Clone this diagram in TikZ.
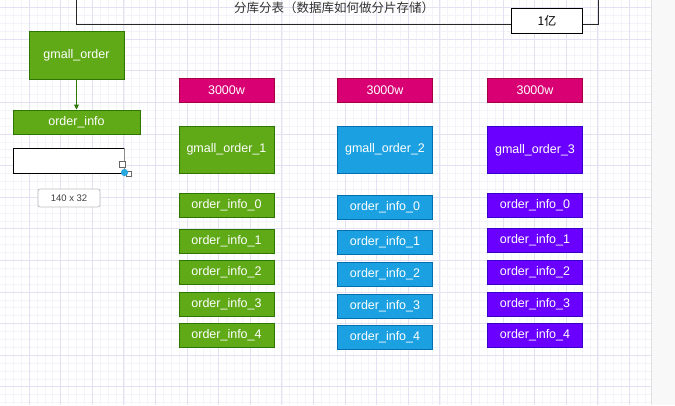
\documentclass[tikz,border=0pt]{standalone}
\usepackage{fontspec}
\setmainfont{Liberation Sans}
\newfontfamily\cjk{Noto Sans CJK SC}
\usetikzlibrary{arrows.meta}
\definecolor{gfill}{HTML}{60A917}\definecolor{gline}{HTML}{2D7600}
\definecolor{bfill}{HTML}{1BA1E2}\definecolor{bline}{HTML}{006EAF}
\definecolor{pfill}{HTML}{6A00FF}\definecolor{pline}{HTML}{3700CC}
\definecolor{mfill}{HTML}{D80073}\definecolor{mline}{HTML}{A50040}
\definecolor{gridmaj}{RGB}{226,226,242}\definecolor{gridmin}{RGB}{243,243,250}
\definecolor{panel}{RGB}{248,248,248}\definecolor{handle}{HTML}{29A8E0}
\tikzset{
  cell/.style={rectangle, inner sep=0pt, text=white, line width=1pt,
    font=\fontsize{12.5}{15}\selectfont},
  gbox/.style={cell, fill=gfill, draw=gline},
  bbox/.style={cell, fill=bfill, draw=bline},
  pbox/.style={cell, fill=pfill, draw=pline},
  mbox/.style={cell, fill=mfill, draw=mline},
  small/.style={minimum width=95pt, minimum height=24pt},
  tall/.style={minimum width=95pt, minimum height=47pt},
}
\begin{document}
\begin{tikzpicture}[x=1pt,y=-1pt]
\useasboundingbox (0,0) rectangle (675,405);
\clip (0,0) rectangle (675,405);
\fill[white] (0,0) rectangle (675,405);
% grid
\foreach \i in {0,...,86} \draw[gridmin, line width=0.6pt] ({-2.6+\i*7.9},0) -- ({-2.6+\i*7.9},405);
\foreach \i in {0,...,55} \draw[gridmin, line width=0.6pt] (0,{-0.4+\i*7.9}) -- (675,{-0.4+\i*7.9});
\foreach \i in {0,...,21} \draw[gridmaj, line width=0.8pt] ({-2.6+\i*31.6},0) -- ({-2.6+\i*31.6},405);
\foreach \i in {0,...,13} \draw[gridmaj, line width=0.8pt] (0,{7.5+\i*31.6}) -- (675,{7.5+\i*31.6});
% right panel
\fill[panel] (651,0) rectangle (675,405);
\draw[black!12, line width=0.8pt] (651,0) -- (651,405);
% outer container
\draw[black!85, line width=1pt] (76,-30) rectangle (598,24);
\node[font=\cjk\fontsize{12.5}{14}\selectfont, text=black!80] (title) at (334,8) {分库分表（数据库如何做分片存储）};
\node[draw=black, fill=white, line width=1pt, minimum width=71pt, minimum height=25pt, inner sep=0pt,
  font=\cjk\fontsize{12}{14}\selectfont] (yi) at (547,20.5) {1亿};
% left
\node[gbox, minimum width=95pt, minimum height=48pt] (go) at (76.5,55) {gmall\_order};
\node[gbox, minimum width=127pt, minimum height=24pt] (oi) at (76.5,122) {order\_info};
\draw[gline, line width=1pt, -{Triangle[length=5pt,width=5pt]}] (go.south) -- (oi.north);
\node[draw=black, fill=white, line width=1pt, minimum width=111pt, minimum height=25pt, inner sep=0pt] (empty) at (68.5,160.5) {};
\draw[black!45, line width=1pt] (empty.north east) -- (empty.south east);
\draw[black!60, line width=0.7pt, fill=white] (119,161) rectangle (125,167);
\draw[black!60, line width=0.7pt, fill=white] (126,171) rectangle (131,176);
\fill[handle] (124.5,172.5) circle (3.6pt);
\node[draw=black!25, fill=white, rounded corners=2pt, line width=0.8pt, minimum width=62pt, minimum height=18pt,
  inner sep=0pt, text=black!75, font=\fontsize{9.5}{11}\selectfont] (size) at (69,198) {140 x 32};
% column 1
\node[mbox, small] (m1) at (226.5,90.5) {3000w};
\node[gbox, tall] (g1) at (226.5,149.5) {gmall\_order\_1};
\node[gbox, small] (g10) at (226.5,205) {order\_info\_0};
\node[gbox, small] (g11) at (226.5,241) {order\_info\_1};
\node[gbox, small] (g12) at (226.5,272) {order\_info\_2};
\node[gbox, small] (g13) at (226.5,304) {order\_info\_3};
\node[gbox, small] (g14) at (226.5,335) {order\_info\_4};
% column 2
\node[mbox, small] (m2) at (385,90.5) {3000w};
\node[bbox, tall] (b2) at (385,149.5) {gmall\_order\_2};
\node[bbox, small] (b20) at (385,207) {order\_info\_0};
\node[bbox, small] (b21) at (385,242.5) {order\_info\_1};
\node[bbox, small] (b22) at (385,274) {order\_info\_2};
\node[bbox, small] (b23) at (385,306) {order\_info\_3};
\node[bbox, small] (b24) at (385,337) {order\_info\_4};
% column 3
\node[mbox, small] (m3) at (535,90.5) {3000w};
\node[pbox, tall] (p3) at (535,150) {gmall\_order\_3};
\node[pbox, small] (p30) at (535,205) {order\_info\_0};
\node[pbox, small] (p31) at (535,240.5) {order\_info\_1};
\node[pbox, small] (p32) at (535,272) {order\_info\_2};
\node[pbox, small] (p33) at (535,304) {order\_info\_3};
\node[pbox, small] (p34) at (535,335) {order\_info\_4};
\end{tikzpicture}
\end{document}
